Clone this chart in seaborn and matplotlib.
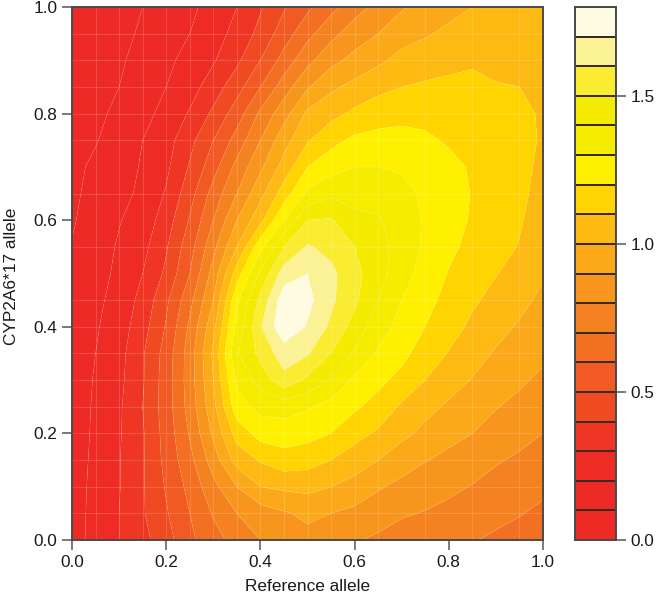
import numpy as np
import pandas as pd
import seaborn as sns
import matplotlib
matplotlib.use("Agg")
import matplotlib.pyplot as plt
from matplotlib.colors import ListedColormap

x_grid = [round(i * 0.05, 2) for i in range(21)]
y_grid = [round(i * 0.05, 2) for i in range(21)]
levels = [round(i * 0.1, 1) for i in range(19)]
band_colors = ["#ee2a26", "#ee2a26", "#ee2c25", "#ef3524", "#f04a23", "#f15a22",
               "#f36f21", "#f58220", "#f8951d", "#fba919", "#feb913", "#ffd400",
               "#fff000", "#f5ec00", "#f4eb00", "#f9ec31", "#fbf195", "#fefbe0"]
bar_ticks = ["0.0", "0.5", "1.0", "1.5"]
seams_x = [0.05, 0.1, 0.15, 0.2, 0.25, 0.3, 0.35, 0.4, 0.45, 0.5, 0.55, 0.6, 0.65, 0.75, 0.85, 0.95]
seams_y = [0.05, 0.1, 0.15, 0.2, 0.25, 0.3, 0.35, 0.4, 0.45, 0.55, 0.65, 0.75, 0.8, 0.85, 0.9, 0.95]

# one list per x position, each running from y = 0 to y = 1
col_000 = [.15,.15,.15,.145,.14,.14,.135,.13,.125,.12,.11,.105,.09,.085,.08,.07,.06,.05,.045,.04,.03]
col_005 = [.24,.235,.23,.225,.22,.215,.21,.2,.19,.175,.165,.155,.145,.125,.115,.095,.085,.075,.065,.055,.05]
col_010 = [.3,.3,.295,.295,.29,.285,.275,.265,.25,.24,.22,.21,.195,.17,.155,.135,.115,.1,.09,.08,.065]
col_015 = [.37,.39,.39,.39,.39,.4,.39,.39,.36,.33,.3,.27,.24,.22,.21,.2,.17,.145,.125,.11,.1]
col_020 = [.46,.49,.51,.53,.54,.55,.55,.54,.51,.48,.42,.39,.35,.31,.28,.26,.23,.2,.18,.16,.14]
col_025 = [.58,.6,.63,.67,.71,.74,.75,.75,.72,.67,.6,.56,.51,.46,.41,.37,.31,.26,.23,.2,.18]
col_030 = [.66,.71,.77,.85,.92,.97,1.0,1.02,.97,.9,.84,.77,.7,.64,.56,.5,.42,.35,.29,.26,.235]
col_035 = [.74,.8,.9,1.04,1.14,1.26,1.32,1.39,1.33,1.28,1.15,1.0,.9,.8,.73,.64,.55,.46,.38,.33,.3]
col_040 = [.8,.85,1.0,1.11,1.24,1.33,1.44,1.53,1.59,1.53,1.42,1.27,1.07,.97,.88,.8,.72,.6,.5,.43,.39]
col_045 = [.84,.89,1.02,1.16,1.25,1.34,1.57,1.65,1.78,1.76,1.65,1.5,1.3,1.15,1.04,.96,.86,.75,.64,.55,.49]
col_050 = [.87,.92,1.03,1.14,1.235,1.31,1.48,1.61,1.69,1.73,1.7,1.61,1.5,1.32,1.2,1.09,1.02,.89,.77,.67,.58]
col_055 = [.85,.9,1.0,1.1,1.2,1.265,1.39,1.5,1.58,1.62,1.625,1.57,1.51,1.38,1.26,1.17,1.07,.98,.87,.77,.67]
col_060 = [.81,.875,.965,1.05,1.135,1.215,1.28,1.39,1.46,1.52,1.53,1.5,1.43,1.36,1.3,1.22,1.12,1.03,.93,.85,.76]
col_065 = [.78,.85,.91,1.0,1.085,1.165,1.225,1.285,1.34,1.4,1.44,1.44,1.41,1.36,1.3,1.23,1.16,1.07,.98,.9,.83]
col_070 = [.76,.81,.875,.945,1.025,1.085,1.17,1.23,1.27,1.3,1.34,1.355,1.35,1.325,1.29,1.235,1.17,1.1,1.03,.96,.89]
col_075 = [.745,.795,.84,.905,.975,1.03,1.1,1.15,1.2,1.23,1.26,1.285,1.29,1.285,1.26,1.215,1.175,1.115,1.05,.99,.93]
col_080 = [.725,.775,.82,.875,.93,.985,1.04,1.095,1.14,1.17,1.195,1.22,1.24,1.245,1.225,1.19,1.16,1.12,1.075,1.02,.97]
col_085 = [.705,.75,.795,.85,.9,.945,.995,1.04,1.08,1.115,1.15,1.175,1.19,1.195,1.19,1.18,1.155,1.12,1.09,1.045,1.0]
col_090 = [.685,.725,.765,.81,.86,.905,.95,.99,1.03,1.07,1.105,1.135,1.15,1.16,1.155,1.14,1.125,1.105,1.08,1.055,1.03]
col_095 = [.665,.705,.745,.785,.83,.875,.915,.955,.99,1.025,1.06,1.095,1.11,1.12,1.125,1.13,1.12,1.1,1.08,1.06,1.04]
col_100 = [.64,.68,.72,.76,.8,.84,.88,.92,.95,.98,1.01,1.03,1.05,1.07,1.08,1.09,1.09,1.09,1.08,1.07,1.06]

columns = [col_000, col_005, col_010, col_015, col_020, col_025, col_030, col_035, col_040, col_045, col_050,
           col_055, col_060, col_065, col_070, col_075, col_080, col_085, col_090, col_095, col_100]
table = pd.DataFrame(np.array(columns).T, index=y_grid, columns=x_grid)

sns.set_theme(style="ticks")
plt.rcParams["font.family"] = ["Liberation Sans", "DejaVu Sans"]
W, H = 666, 601
fig = plt.figure(figsize=(W / 100, H / 100), dpi=100)
ax = fig.add_axes([72 / W, 1 - 540 / H, 471 / W, 533 / H])
cax = fig.add_axes([575 / W, 1 - 540 / H, 41 / W, 533 / H])

ax.contourf(table.columns, table.index, table.values, levels=levels, colors=band_colors, antialiased=True)
ax.contour(table.columns, table.index, table.values, levels=levels[1:-1], colors="white", linewidths=0.5,
           linestyles="dashed", alpha=0.12)
ax.vlines(seams_x, 0, 1, color="white", lw=0.7, alpha=0.16)
ax.hlines(seams_y, 0, 1, color="white", lw=0.7, alpha=0.16)
ax.set_xlim(0, 1)
ax.set_ylim(0, 1)
ax.set_xticks([0, 0.2, 0.4, 0.6, 0.8, 1.0])
ax.set_yticks([0, 0.2, 0.4, 0.6, 0.8, 1.0])
ax.set_xlabel("Reference allele", fontsize=12.4, color="#1a1a1a", labelpad=7)
ax.set_ylabel("CYP2A6*17 allele", fontsize=12.4, color="#1a1a1a")
ax.yaxis.set_label_coords(-0.112, 0.495)

key = pd.DataFrame(np.arange(len(band_colors)).reshape(-1, 1))
sns.heatmap(key, ax=cax, cmap=ListedColormap(band_colors), cbar=False,
            linewidths=1.3, linecolor="#3a2a20", xticklabels=False, yticklabels=False)
cax.set_ylim(0, len(band_colors))
cax.set_xlabel("")
cax.set_ylabel("")
cax.yaxis.tick_right()
cax.set_yticks([0, 5, 10, 15])
cax.set_yticklabels(bar_ticks, rotation=0)
cax.set_xticks([])

for a in (ax, cax):
    for s in a.spines.values():
        s.set_visible(True)
        s.set_color("#4a4a4a")
        s.set_linewidth(1.4)
    a.tick_params(length=7.5, width=1.1, color="#555555", labelsize=12.4, labelcolor="#1a1a1a", pad=3)

fig.savefig("out.png", dpi=100)
